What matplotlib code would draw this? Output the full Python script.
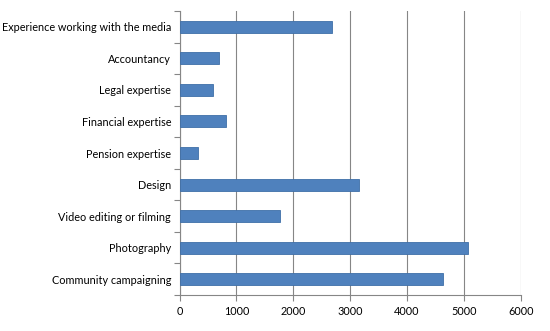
import matplotlib
matplotlib.use('Agg')
import matplotlib.pyplot as plt

# categories top to bottom, as in the chart
categories = ['Experience working with the media', 'Accountancy', 'Legal expertise',
              'Financial expertise', 'Pension expertise', 'Design',
              'Video editing or filming', 'Photography', 'Community campaigning']
values = [2680, 700, 590, 825, 330, 3160, 1760, 5070, 4640]
xticks = [0, 1000, 2000, 3000, 4000, 5000, 6000]

plt.rcParams['font.family'] = ['Lato', 'DejaVu Sans']

fig = plt.figure(figsize=(5.5, 3.31), dpi=100)
ax = fig.add_axes([179.5 / 550, 1 - 295 / 331, (520.7 - 179.5) / 550, (295 - 11) / 331])

n = len(categories)
ypos = [n - 1 - i for i in range(n)]
ax.barh(ypos, values, height=0.38, color='#4F81BD', edgecolor='#3F6FA8', linewidth=0.6, zorder=3)

ax.set_xlim(0, 6000)
ax.set_ylim(-0.5, n - 0.5)
ax.set_xticks(xticks)
ax.set_xticklabels([str(t) for t in xticks], fontsize=7.8)
ax.set_yticks(ypos)
ax.set_yticklabels(categories, fontsize=7.8)
ax.tick_params(axis='y', length=0, pad=6)
# tick marks at category boundaries
ax.set_yticks([i - 0.5 for i in range(n + 1)], minor=True)
ax.tick_params(axis='y', which='minor', length=4, color='#868686', width=0.8)
ax.tick_params(axis='x', length=4, color='#868686', width=0.8, pad=4)

ax.grid(axis='x', color='#868686', linewidth=0.8, zorder=0)
for s in ['top', 'right']:
    ax.spines[s].set_visible(False)
for s in ['left', 'bottom']:
    ax.spines[s].set_color('#868686')
    ax.spines[s].set_linewidth(0.8)

fig.savefig('out.png', dpi=100)
